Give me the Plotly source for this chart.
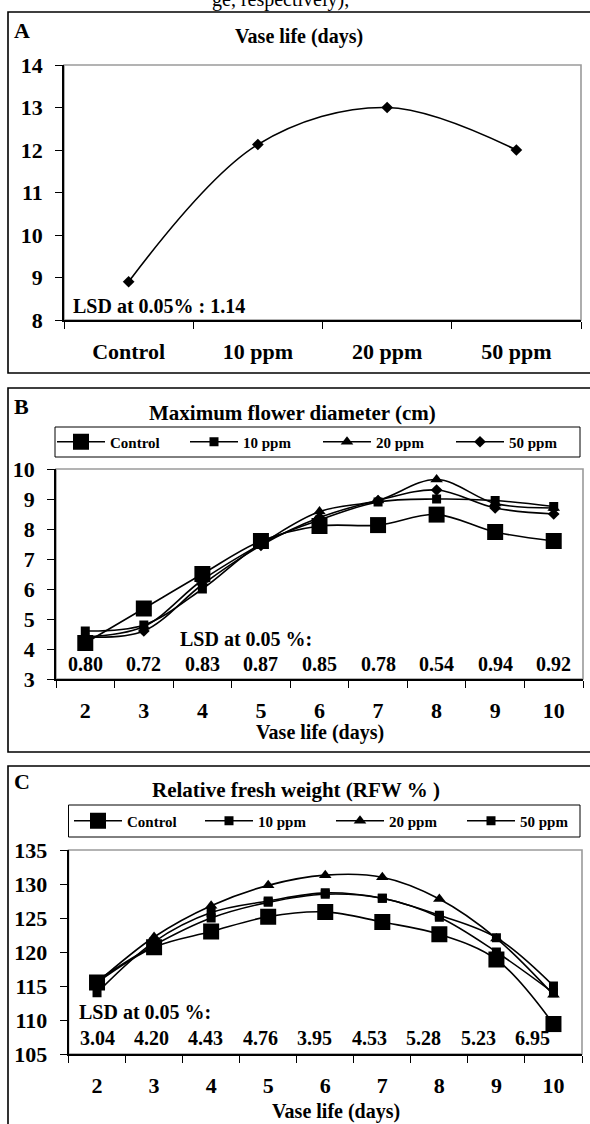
import plotly.graph_objects as go

W, H = 590, 1124
SERIF = "Liberation Serif"

# ---------------- data ----------------
treatments = ["Control", "10 ppm", "20 ppm", "50 ppm"]
vase_life = [8.9, 12.13, 13.0, 12.0]
lsd_a_text = "LSD at 0.05% : 1.14"

days = ["2", "3", "4", "5", "6", "7", "8", "9", "10"]
series_names = ["Control", "10 ppm", "20 ppm", "50 ppm"]

diam_control = [4.2, 5.35, 6.5, 7.6, 8.1, 8.13, 8.48, 7.9, 7.6]
diam_10 = [4.6, 4.8, 6.0, 7.5, 8.3, 8.9, 9.0, 8.95, 8.75]
diam_20 = [4.4, 4.75, 6.3, 7.5, 8.58, 8.95, 9.65, 8.85, 8.7]
diam_50 = [4.4, 4.6, 6.15, 7.45, 8.38, 8.95, 9.3, 8.7, 8.5]
lsd_b = ["0.80", "0.72", "0.83", "0.87", "0.85", "0.78", "0.54", "0.94", "0.92"]

rfw_control = [115.5, 120.7, 123.0, 125.2, 125.9, 124.4, 122.6, 118.9, 109.4]
rfw_10 = [115.8, 121.0, 125.0, 127.3, 128.5, 127.9, 125.1, 120.0, 114.0]
rfw_20 = [115.5, 122.2, 126.8, 129.8, 131.3, 131.0, 127.8, 122.0, 113.7]
rfw_50 = [114.0, 121.5, 125.8, 127.5, 128.7, 127.9, 125.4, 122.1, 115.0]
lsd_c = ["3.04", "4.20", "4.43", "4.76", "3.95", "4.53", "5.28", "5.23", "6.95"]


def px(x):
    return x / W


def py(y):
    return 1 - y / H


fig = go.Figure()

LINE = dict(color="black", width=1.6, shape="spline", smoothing=1.0)

# Panel A
fig.add_trace(go.Scatter(x=treatments, y=vase_life, mode="lines+markers",
                         line=LINE, marker=dict(symbol="diamond", size=9, color="black"),
                         showlegend=False, xaxis="x", yaxis="y"))

# Panel B
b_markers = [dict(symbol="square", size=16), dict(symbol="square", size=9),
             dict(symbol="triangle-up", size=11), dict(symbol="diamond", size=9)]
for name, vals, mk in zip(series_names, [diam_control, diam_10, diam_20, diam_50], b_markers):
    fig.add_trace(go.Scatter(x=days, y=vals, name=name, mode="lines+markers", line=LINE,
                             marker=dict(color="black", **mk), legend="legend",
                             xaxis="x2", yaxis="y2"))

# Panel C
c_markers = [dict(symbol="square", size=16), dict(symbol="square", size=9),
             dict(symbol="triangle-up", size=11), dict(symbol="square", size=9)]
for name, vals, mk in zip(series_names, [rfw_control, rfw_10, rfw_20, rfw_50], c_markers):
    fig.add_trace(go.Scatter(x=days, y=vals, name=name, mode="lines+markers", line=LINE,
                             marker=dict(color="black", **mk), legend="legend2",
                             xaxis="x3", yaxis="y3"))

TICKFONT = dict(family=SERIF, size=22, color="black", weight="bold")


def xax(domain, anchor, ncat):
    return dict(domain=domain, anchor=anchor, type="category", range=[-0.5, ncat - 0.5],
                autorange=False, showgrid=False,
                showline=True, linecolor="black", linewidth=1.5, ticks="outside",
                tickson="boundaries", ticklen=7, tickcolor="black", tickwidth=1.2,
                tickfont=TICKFONT, ticklabelstandoff=11, zeroline=False, fixedrange=True)


def yax(domain, anchor, rng, dtick):
    return dict(domain=domain, anchor=anchor, range=rng, autorange=False, dtick=dtick,
                showgrid=False,
                showline=True, linecolor="black", linewidth=1.5, ticks="outside",
                ticklen=7, tickcolor="black", tickwidth=1.2, tickfont=TICKFONT,
                ticklabelstandoff=8, zeroline=False, fixedrange=True)


A_x = [px(64), px(581)]
A_y = [py(320), py(65)]
B_x = [px(56), px(583)]
B_y = [py(679), py(469)]
C_x = [px(68.5), px(582)]
C_y = [py(1054), py(850)]

LEG_FONT = dict(family=SERIF, size=15, color="black", weight="bold")

fig.update_layout(
    width=W, height=H, margin=dict(l=0, r=0, t=0, b=0, autoexpand=False),
    paper_bgcolor="white", plot_bgcolor="white",
    xaxis=xax(A_x, "y", len(treatments)), yaxis=yax(A_y, "x", [8, 14], 1),
    xaxis2=xax(B_x, "y2", len(days)), yaxis2=yax(B_y, "x2", [3, 10], 1),
    xaxis3=xax(C_x, "y3", len(days)), yaxis3=yax(C_y, "x3", [105, 135], 5),
    legend=dict(orientation="h", x=px(52), y=py(442), xanchor="left", yanchor="middle",
                font=LEG_FONT, bgcolor="rgba(0,0,0,0)", borderwidth=0, itemwidth=48,
                entrywidth=70, entrywidthmode="pixels", traceorder="normal"),
    legend2=dict(orientation="h", x=px(69), y=py(821), xanchor="left", yanchor="middle",
                 font=LEG_FONT, bgcolor="rgba(0,0,0,0)", borderwidth=0, itemwidth=48,
                 entrywidth=68, entrywidthmode="pixels", traceorder="normal"),
    showlegend=True,
)

shapes = []
# panel frames
for (y0, y1) in [(12, 373), (388, 752), (766, 1140)]:
    shapes.append(dict(type="rect", xref="paper", yref="paper", x0=px(8), x1=px(600),
                       y0=py(y1), y1=py(y0), line=dict(color="black", width=1.6),
                       layer="below"))
# plot-area gray frames
for xr, yr in [("x", "y"), ("x2", "y2"), ("x3", "y3")]:
    shapes.append(dict(type="rect", xref=xr + " domain", yref=yr + " domain", x0=0, x1=1,
                       y0=0, y1=1, line=dict(color="#9a9a9a", width=1.6), layer="below"))
# legend boxes
shapes.append(dict(type="rect", xref="paper", yref="paper", x0=px(55), x1=px(580),
                   y0=py(457), y1=py(427), line=dict(color="black", width=1), layer="below"))
shapes.append(dict(type="rect", xref="paper", yref="paper", x0=px(68.5), x1=px(580),
                   y0=py(837), y1=py(805), line=dict(color="black", width=1), layer="below"))
fig.update_layout(shapes=shapes)

BF = lambda s: dict(family=SERIF, size=s, color="black", weight="bold")
ann = []
ann.append(dict(text="ge, respectively),", x=px(280), y=py(-1), xref="paper", yref="paper",
                showarrow=False, font=dict(family=SERIF, size=20, color="black"),
                yanchor="middle"))
# panel letters
for letter, yc in [("A", 31), ("B", 406), ("C", 781)]:
    ann.append(dict(text=letter, x=px(12), y=py(yc), xref="paper", yref="paper",
                    xanchor="left", yanchor="middle", showarrow=False, font=BF(22)))
# titles
ann.append(dict(text="Vase life (days)", x=px(299), y=py(36), xref="paper", yref="paper",
                showarrow=False, font=BF(20), yanchor="middle"))
ann.append(dict(text="Maximum flower diameter (cm)", x=px(292), y=py(413), xref="paper",
                yref="paper", showarrow=False, font=BF(21), yanchor="middle"))
ann.append(dict(text="Relative fresh weight (RFW % )", x=px(296), y=py(790), xref="paper",
                yref="paper", showarrow=False, font=BF(21), yanchor="middle"))
# axis titles
ann.append(dict(text="Vase life (days)", x=0.5, y=py(732), xref="x2 domain", yref="paper",
                showarrow=False, font=BF(20), yanchor="middle"))
ann.append(dict(text="Vase life (days)", x=0.52, y=py(1111), xref="x3 domain", yref="paper",
                showarrow=False, font=BF(20), yanchor="middle"))
# LSD
ann.append(dict(text=lsd_a_text, x=0.013, y=8.33, xref="x domain", yref="y", xanchor="left",
                yanchor="middle", showarrow=False, font=BF(20)))
ann.append(dict(text="LSD at 0.05 %:", x=0.231, y=4.33, xref="x2 domain", yref="y2",
                xanchor="left", yanchor="middle", showarrow=False, font=BF(20)))
for i, v in enumerate(lsd_b):
    ann.append(dict(text=v, x=i, y=3.5, xref="x2", yref="y2", showarrow=False,
                    font=BF(20), yanchor="middle"))
ann.append(dict(text="LSD at 0.05 %:", x=0.017, y=111.2, xref="x3 domain", yref="y3",
                xanchor="left", yanchor="middle", showarrow=False, font=BF(20)))
for i, v in enumerate(lsd_c):
    ann.append(dict(text=v, x=i, y=107.35, xref="x3", yref="y3", showarrow=False,
                    font=BF(20), yanchor="middle", xshift=-2.6 * i))
fig.update_layout(annotations=ann)

fig.write_html("out.html", config={"displayModeBar": False},
               post_script="document.body.style.margin='0';document.body.style.padding='0';")
